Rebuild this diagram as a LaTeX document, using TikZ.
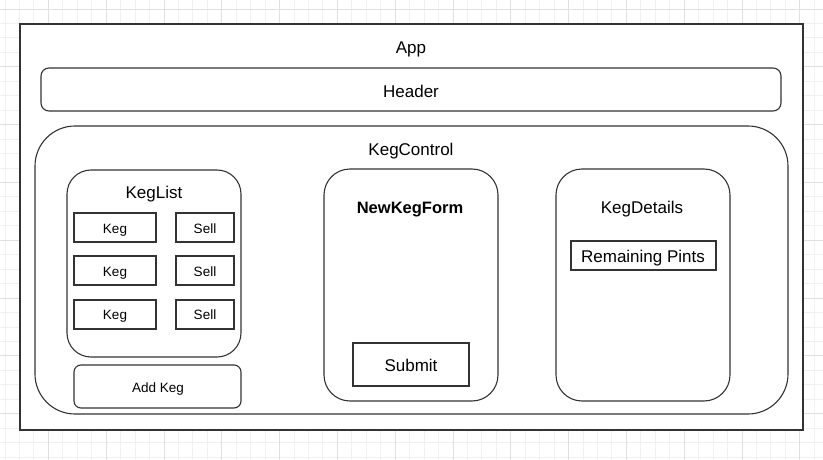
\documentclass[tikz,border=0pt]{standalone}
\usepackage{fontspec}
\setmainfont{Liberation Sans}
\begin{document}
\begin{tikzpicture}[x=1pt, y=-1pt,
  gridminor/.style={draw=black!6, line width=0.8pt},
  gridmajor/.style={draw=black!12, line width=0.8pt},
  frame/.style={draw=black!80, line width=1.1pt},
  title/.style={font=\fontsize{17}{20}\selectfont, inner sep=0pt, text height=12.2pt, text depth=0pt},
  small/.style={font=\fontsize{13.5}{16}\selectfont, inner sep=0pt, text height=9.7pt, text depth=0pt}]

\useasboundingbox (0,0) rectangle (823,460);

% background grid
\foreach \i in {0,...,56} {\draw[gridminor] ({4.95+14.45*\i}, 0) -- ({4.95+14.45*\i}, 460);}
\foreach \i in {0,...,31} {\draw[gridminor] (0, {9+14.45*\i}) -- (823, {9+14.45*\i});}
\foreach \i in {0,...,13} {\draw[gridmajor] ({48.3+57.8*\i}, 0) -- ({48.3+57.8*\i}, 460);}
\foreach \i in {0,...,7} {\draw[gridmajor] (0, {9+57.8*\i}) -- (823, {9+57.8*\i});}

% App
\draw[frame, fill=white, line width=1.5pt] (20, 24) rectangle (803, 430);
\node[title] (app) at (411, 47) {App};

% Header
\draw[frame, rounded corners=8] (41, 68) rectangle (781, 111);
\node[title] (header) at (411, 91) {Header};

% KegControl
\draw[frame, rounded corners=40] (35, 126) rectangle (788, 414);
\node[title] (kegcontrol) at (411, 149) {KegControl};

% KegList
\draw[frame, rounded corners=24] (67, 170) rectangle (241, 357);
\node[title] (keglist) at (154, 192) {KegList};

\draw[frame] (74, 213) rectangle (156, 242);
\draw[frame] (74, 256) rectangle (156, 285);
\draw[frame] (74, 300) rectangle (156, 329);
\draw[frame] (176, 213) rectangle (234, 242);
\draw[frame] (176, 256) rectangle (234, 285);
\draw[frame] (176, 300) rectangle (234, 329);

\node[small] (keg1) at (115, 228.5) {Keg};
\node[small] (keg2) at (115, 271.5) {Keg};
\node[small] (keg3) at (115, 315) {Keg};
\node[small] (sell1) at (205, 228.5) {Sell};
\node[small] (sell2) at (205, 271.5) {Sell};
\node[small] (sell3) at (205, 315) {Sell};

\draw[frame, rounded corners=7] (74, 365) rectangle (241, 408);
\node[small] (addkeg) at (158, 388) {Add Keg};

% NewKegForm
\draw[frame, rounded corners=26] (324, 169) rectangle (498, 401);
\node[title, font=\fontsize{16.5}{20}\selectfont\bfseries] (newkegform) at (410, 207.5) {NewKegForm};
\draw[frame] (353, 343) rectangle (469, 386);
\node[title] (submit) at (411, 365.5) {Submit};

% KegDetails
\draw[frame, rounded corners=26] (556, 169) rectangle (730, 401);
\node[title] (kegdetails) at (642, 207.5) {KegDetails};
\draw[frame] (571, 241) rectangle (716, 270);
\node[title] (pints) at (643, 256.5) {Remaining Pints};

\end{tikzpicture}
\end{document}
